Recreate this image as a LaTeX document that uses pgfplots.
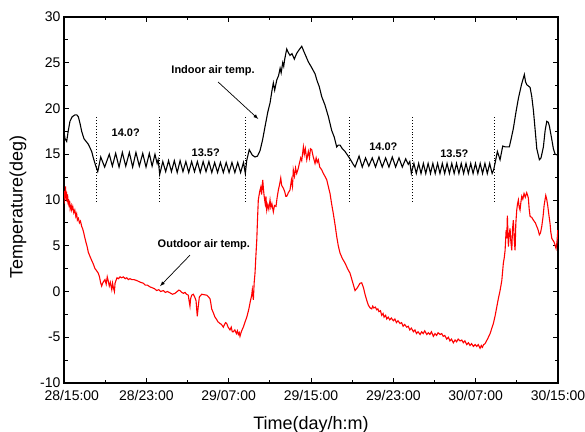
\documentclass[border=0pt]{standalone}
\usepackage{pgfplots}
\pgfplotsset{compat=1.18}
\usepackage{fontspec}
\setmainfont{Liberation Sans}

\begin{document}
\begin{tikzpicture}
\path[use as bounding box] (-64bp,-49bp) rectangle (521bp,383bp);
\begin{axis}[
    at={(0,0)}, anchor=south west,
    scale only axis,
    width=494bp, height=366bp,
    xmin=0, xmax=48,
    ymin=-10, ymax=30,
    xtick={0,8,16,24,32,40,48},
    xticklabels={\hphantom{00}28/15:00,28/23:00,29/07:00,29/15:00,29/23:00,30/07:00,30/15:00},
    ytick={-10,-5,0,5,10,15,20,25,30},
    minor x tick num=1,
    minor y tick num=1,
    tick align=inside,
    major tick length=5bp,
    minor tick length=3.5bp,
    axis line style={line width=1.1bp},
    every tick/.style={black, line width=0.9bp},
    tick label style={font=\fontsize{14bp}{16bp}\selectfont},
    xticklabel style={yshift=-3.5bp},
    /pgf/number format/assume math mode=true,
    xlabel={Time(day/h:m)},
    ylabel={Temperature(deg)},
    label style={font=\fontsize{18bp}{20bp}\selectfont},
    xlabel style={at={(axis description cs:0.5,-0.126)}, anchor=base},
    ylabel style={at={(axis description cs:-0.093,0.48)}, anchor=center},
]

% separators of the set-point periods
\addplot[black, dotted, line width=0.9bp] coordinates {(3.14,9.8)(3.14,19.1)};
\addplot[black, dotted, line width=0.9bp] coordinates {(9.3,9.8)(9.3,19.1)};
\addplot[black, dotted, line width=0.9bp] coordinates {(17.66,9.8)(17.66,19.1)};
\addplot[black, dotted, line width=0.9bp] coordinates {(27.7,9.8)(27.7,19.1)};
\addplot[black, dotted, line width=0.9bp] coordinates {(33.85,9.8)(33.85,19.1)};
\addplot[black, dotted, line width=0.9bp] coordinates {(41.8,9.8)(41.8,19.1)};

% indoor air temperature
\addplot[black, line width=1.1bp] coordinates {
(0,17.5)(0.1,16.7)(0.26,16.4)(0.42,17.6)(0.58,18.6)(0.8,19.1)(1.07,19.3)(1.25,19.3)(1.39,19.1)(1.55,18.4)
(1.72,17.5)(1.94,16.7)(2.15,16.4)(2.36,16.1)(2.53,15.7)(2.69,15.3)(2.85,14.6)(3.01,14.0)(3.15,13.5)(3.28,13.1)
(3.57,14.7)(3.95,13.6)(4.4,15.0)(4.7,13.7)(5.02,15.1)(5.35,13.6)(5.67,15.2)(6.0,13.7)(6.35,15.2)(6.67,13.6)
(6.99,15.2)(7.32,13.7)(7.65,15.1)(7.97,13.6)(8.29,15.1)(8.56,13.7)(8.84,15.0)(9.05,14.0)(9.15,14.4)(9.3,12.8)
(9.6,14.2)(9.88,13.1)(10.16,14.3)(10.44,13.1)(10.72,14.3)(11.0,13.0)(11.28,14.3)(11.56,13.1)(11.84,14.2)(12.12,13.0)
(12.4,14.2)(12.68,13.1)(12.96,14.2)(13.24,13.0)(13.52,14.2)(13.8,13.1)(14.08,14.2)(14.36,13.0)(14.64,14.1)(14.92,13.0)
(15.2,14.1)(15.48,13.0)(15.76,14.1)(16.04,13.0)(16.32,14.1)(16.6,13.0)(16.88,14.1)(17.16,13.0)(17.44,14.1)(17.62,12.9)
(17.75,14.3)(18.0,15.5)(18.3,14.9)(18.56,14.7)(18.8,14.8)(19.05,15.4)(19.3,16.6)(19.53,18.0)(19.8,19.6)(20.02,20.6)
(20.2,21.9)(20.34,22.8)(20.47,22.0)(20.67,23.1)(20.85,23.6)(21.0,24.4)(21.1,23.9)(21.25,25.0)(21.35,24.6)(21.43,25.3)
(21.64,26.5)(21.8,26.1)(21.96,25.8)(22.15,26.0)(22.38,25.4)(22.6,26.0)(22.77,26.3)(23.1,26.8)(23.32,26.2)(23.55,25.6)
(23.74,25.1)(24.0,24.6)(24.39,23.8)(24.6,23.0)(24.8,22.4)(25.04,21.3)(25.35,20.4)(25.69,19.1)(26.01,17.6)(26.25,16.9)
(26.5,15.8)(26.65,16.0)(26.82,16.0)(27.05,15.6)(27.31,15.3)(27.55,14.9)(27.79,14.5)(28.05,14.0)(28.28,13.6)
(28.67,14.8)(28.98,13.6)(29.3,14.6)(29.62,13.7)(29.95,14.6)(30.27,13.6)(30.6,14.7)(30.92,13.6)(31.25,14.6)(31.57,13.6)
(31.9,14.7)(32.22,13.6)(32.55,14.6)(32.87,13.6)(33.2,14.5)(33.45,13.9)(33.6,14.2)(33.75,12.9)
(34.0,14.0)(34.23,12.9)(34.46,14.0)(34.69,12.9)(34.92,14.0)(35.15,12.9)(35.38,14.0)(35.61,12.9)(35.84,14.0)(36.07,12.9)
(36.3,14.0)(36.53,12.9)(36.76,14.0)(36.99,12.9)(37.22,14.0)(37.45,12.9)(37.68,14.0)(37.91,12.9)(38.14,14.0)(38.37,12.9)
(38.6,14.0)(38.83,12.9)(39.06,14.0)(39.29,12.9)(39.52,14.0)(39.75,12.9)(39.98,14.0)(40.21,12.9)(40.44,14.0)(40.67,12.9)
(40.9,14.0)(41.13,12.9)(41.36,14.0)(41.6,12.9)
(41.75,13.3)(41.88,14.0)(42.11,15.3)(42.37,14.4)(42.63,15.9)(42.9,15.8)(43.27,15.8)(43.45,16.7)(43.66,17.8)(43.9,19.5)
(44.15,21.1)(44.45,22.6)(44.73,23.7)(44.85,22.9)(44.97,22.6)(45.29,22.3)(45.45,21.3)(45.61,19.8)(45.8,17.4)(45.94,15.6)
(46.19,14.4)(46.35,14.6)(46.58,15.8)(46.75,17.6)(46.91,18.6)(47.05,18.5)(47.16,18.1)(47.4,16.6)(47.55,15.6)(47.72,15.0)
(47.98,14.9)
};

% outdoor air temperature
\addplot[red, line width=1.1bp] coordinates {
(0,9.6)(0.05,11.0)(0.1,10.2)(0.15,11.5)(0.2,10.0)(0.25,10.9)(0.3,9.8)(0.35,10.6)(0.4,9.5)(0.45,10.1)
(0.5,9.2)(0.55,9.9)(0.6,9.0)(0.7,9.4)(0.75,8.9)(0.85,9.3)(0.95,8.6)(1.05,8.9)(1.15,8.2)(1.23,8.5)
(1.3,7.8)(1.4,8.0)(1.5,7.5)(1.6,7.7)(1.72,7.1)(1.8,6.9)(1.9,6.5)(2.04,5.8)(2.15,5.3)(2.25,4.9)
(2.36,4.3)(2.5,3.9)(2.69,3.4)(2.85,3.0)(3.01,2.5)(3.15,2.3)(3.33,2.0)(3.45,1.6)(3.55,1.0)(3.66,0.6)
(3.75,0.9)(3.85,1.1)(3.98,1.3)(4.1,0.8)(4.2,1.6)(4.31,1.1)(4.4,0.6)(4.5,1.0)(4.64,0.2)(4.72,0.9)
(4.8,0.4)(4.9,0.0)(4.96,0.9)(5.05,1.2)(5.15,1.5)(5.28,1.4)(5.45,1.6)(5.6,1.5)(5.76,1.6)(5.95,1.4)
(6.1,1.5)(6.25,1.3)(6.41,1.4)(6.6,1.3)(6.8,1.3)(7.07,1.2)(7.25,1.1)(7.45,1.0)(7.71,0.9)(7.9,0.7)
(8.1,0.7)(8.36,0.5)(8.6,0.4)(8.8,0.3)(9.01,0.1)(9.2,0.2)(9.4,0.0)(9.65,0.1)(9.85,-0.1)(10.05,0.0)
(10.3,-0.15)(10.55,-0.3)(10.79,-0.2)(11.0,0.0)(11.15,0.15)(11.27,0.1)(11.45,-0.1)(11.6,-0.2)(11.76,-0.1)(11.9,-0.3)
(12.08,-0.4)(12.15,-1.0)(12.24,-1.6)(12.3,-0.8)(12.41,-0.4)(12.57,-0.3)(12.7,-0.6)(12.83,-1.0)(12.9,-2.0)(12.95,-2.7)
(13.03,-1.8)(13.15,-0.6)(13.38,-0.3)(13.6,-0.35)(13.87,-0.4)(14.05,-0.6)(14.19,-0.8)(14.27,-1.3)(14.35,-1.9)(14.5,-2.3)
(14.67,-2.8)(14.8,-3.0)(14.95,-3.3)(15.16,-3.5)(15.3,-3.6)(15.48,-3.9)(15.6,-3.6)(15.7,-3.4)(15.81,-3.5)(15.95,-3.9)
(16.13,-4.2)(16.25,-3.9)(16.35,-4.4)(16.45,-4.4)(16.6,-4.2)(16.75,-4.6)(16.85,-4.3)(16.94,-4.7)(17.03,-4.5)(17.1,-4.9)
(17.2,-4.5)(17.3,-4.2)(17.42,-3.9)(17.6,-3.3)(17.76,-2.8)(17.9,-2.2)(18.0,-1.7)(18.1,-1.1)(18.24,-0.4)(18.3,0.2)
(18.4,-0.9)(18.48,1.0)(18.56,2.0)(18.65,4.0)(18.73,5.6)(18.8,7.8)(18.88,10.0)(18.95,10.5)(19.03,11.0)(19.12,11.4)
(19.2,10.6)(19.31,12.2)(19.38,11.2)(19.44,10.5)(19.55,9.6)(19.62,10.4)(19.7,8.9)(19.8,9.5)(19.9,9.0)(20.02,10.0)
(20.1,9.2)(20.2,9.6)(20.34,8.7)(20.45,9.4)(20.6,9.3)(20.7,10.2)(20.83,11.1)(20.95,11.7)(21.06,12.4)(21.15,11.6)
(21.31,11.3)(21.45,10.9)(21.55,10.4)(21.64,10.4)(21.8,10.8)(21.96,11.1)(22.1,12.2)(22.2,11.5)(22.28,13.3)(22.4,12.6)
(22.5,13.5)(22.61,12.9)(22.75,13.4)(22.87,14.0)(23.0,14.6)(23.1,14.3)(23.26,15.8)(23.35,15.0)(23.45,15.6)(23.59,14.4)
(23.74,15.3)(23.85,14.6)(23.95,15.6)(24.07,15.5)(24.2,14.8)(24.39,14.0)(24.5,14.6)(24.6,14.1)(24.71,14.4)(24.85,13.6)
(25.04,13.3)(25.2,12.9)(25.35,12.6)(25.53,12.2)(25.7,11.4)(25.85,10.7)(26.0,9.6)(26.17,8.5)(26.35,7.2)(26.5,6.0)
(26.65,5.0)(26.82,4.2)(27.05,3.6)(27.31,3.1)(27.55,2.5)(27.79,2.0)(28.05,1.0)(28.28,0.1)(28.5,0.4)(28.76,0.9)
(28.93,0.95)(29.1,0.4)(29.25,-0.3)(29.4,-0.9)(29.57,-1.5)(29.75,-1.8)
(29.9,-1.9)(30.0,-1.6)(30.1,-1.8)(30.25,-1.7)(30.39,-2.0)(30.5,-1.9)(30.6,-2.2)(30.75,-2.1)(30.87,-2.6)(31.0,-2.4)
(31.1,-2.8)(31.25,-2.6)(31.36,-3.0)(31.5,-2.8)(31.65,-3.1)(31.8,-2.9)(32.0,-3.2)(32.15,-3.0)(32.3,-3.4)(32.45,-3.2)
(32.65,-3.5)(32.8,-3.4)(32.95,-3.8)(33.1,-3.6)(33.3,-3.9)(33.45,-3.8)(33.6,-4.2)(33.75,-4.0)(33.95,-4.4)(34.1,-4.2)
(34.25,-4.6)(34.4,-4.4)(34.6,-4.7)(34.75,-4.4)(34.9,-4.6)(35.05,-4.3)(35.25,-4.7)(35.4,-4.5)(35.55,-4.7)(35.7,-4.4)
(35.89,-4.9)(36.05,-4.6)(36.2,-4.8)(36.35,-4.5)(36.54,-4.7)(36.7,-4.6)(36.85,-4.9)(37.0,-4.8)(37.19,-5.2)(37.35,-5.0)
(37.5,-5.4)(37.65,-5.2)(37.83,-5.6)(38.0,-5.3)(38.15,-5.5)(38.3,-5.2)(38.48,-5.4)(38.65,-5.3)(38.8,-5.6)(38.95,-5.4)
(39.13,-5.8)(39.3,-5.6)(39.45,-5.9)(39.6,-5.7)(39.78,-6.0)(39.95,-5.8)(40.1,-6.0)(40.25,-5.8)(40.43,-6.2)(40.55,-5.9)
(40.65,-6.1)(40.78,-5.8)(40.91,-5.7)(41.15,-5.2)(41.4,-4.6)(41.72,-3.5)(41.9,-2.6)(42.05,-1.7)(42.2,-0.8)(42.37,0.1)
(42.54,1.2)(42.69,3.1)(42.78,3.7)(42.86,4.5)(42.96,6.7)(43.02,5.8)(43.08,8.3)(43.18,4.9)(43.26,6.2)(43.34,6.9)
(43.42,5.4)(43.51,4.5)(43.58,6.8)(43.66,7.8)(43.75,5.6)(43.83,4.5)(43.9,7.4)(43.99,8.9)(44.07,9.6)(44.15,10.0)
(44.23,9.2)(44.31,8.9)(44.4,9.8)(44.48,10.4)(44.58,10.1)(44.7,10.7)(44.82,10.3)(44.96,10.8)(45.05,10.5)(45.12,10.2)
(45.2,9.0)(45.29,8.2)(45.45,8.1)(45.61,7.8)(45.8,7.5)(45.94,7.1)(46.05,6.8)(46.19,6.2)(46.3,6.4)(46.42,7.1)
(46.55,8.2)(46.65,9.4)(46.81,10.5)(46.9,10.1)(47.0,9.4)(47.1,8.5)(47.23,7.4)(47.3,6.5)(47.4,5.8)(47.62,5.4)
(47.81,4.7)(47.9,5.4)(47.98,6.7)
};

% annotations
\node[font=\bfseries\fontsize{11bp}{13bp}\selectfont] at (axis cs:14.48,24.1) {Indoor air temp.};
\draw[-latex, line width=0.7bp] (axis cs:14.97,22.9) -- (axis cs:18.88,18.85);
\node[font=\bfseries\fontsize{11bp}{13bp}\selectfont] at (axis cs:13.59,5.07) {Outdoor air temp.};
\draw[-latex, line width=0.7bp] (axis cs:12.24,3.97) -- (axis cs:9.33,0.58);
\node[font=\bfseries\fontsize{11bp}{13bp}\selectfont] at (axis cs:6.0,17.3) {14.0?};
\node[font=\bfseries\fontsize{11bp}{13bp}\selectfont] at (axis cs:13.77,15.2) {13.5?};
\node[font=\bfseries\fontsize{11bp}{13bp}\selectfont] at (axis cs:31.03,15.8) {14.0?};
\node[font=\bfseries\fontsize{11bp}{13bp}\selectfont] at (axis cs:37.93,15.1) {13.5?};

\end{axis}
\end{tikzpicture}
\end{document}
